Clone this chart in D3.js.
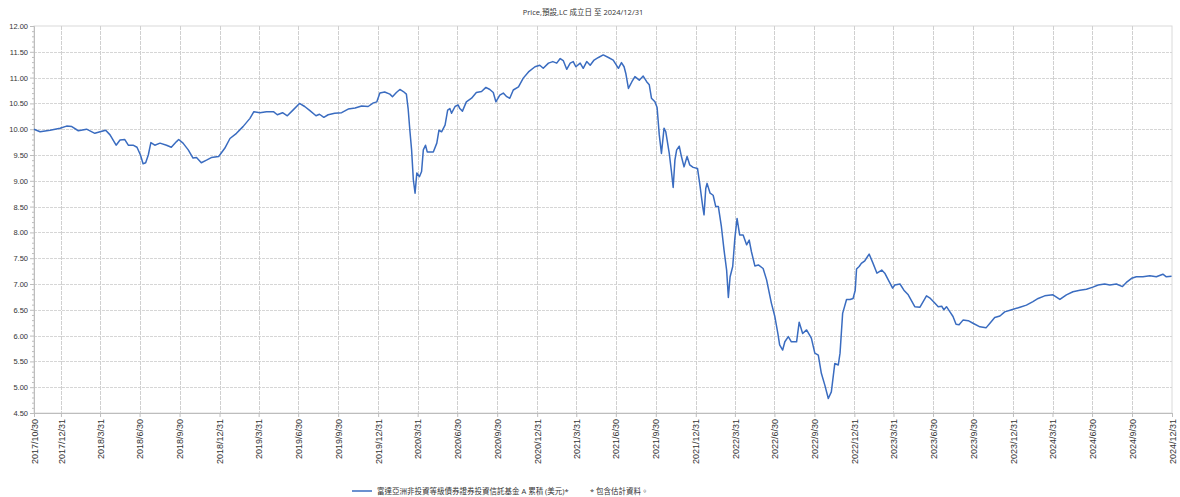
<!DOCTYPE html>
<html><head><meta charset="utf-8">
<script src="https://cdn.jsdelivr.net/npm/d3@7/dist/d3.min.js"></script>
<style>
html,body{margin:0;padding:0;background:#fff;}
svg{display:block;font-family:"Open Sans","Noto Sans CJK TC",sans-serif;}
</style></head><body>
<svg id="chart" width="1180" height="497"></svg>
<script>
const titleText = "Price,預設,LC 成立日 至 2024/12/31";
const seriesName = "富達亞洲非投資等級債券證券投資信託基金 A 累積 (美元)*";
const noteText = "*  包含估計資料。";

const dates = [
"2017-10-30","2017-11-13","2017-12-06","2017-12-29","2018-01-13","2018-01-25","2018-02-09","2018-02-28","2018-03-19","2018-03-31",
"2018-04-13","2018-04-23","2018-05-07","2018-05-16","2018-05-27","2018-06-04","2018-06-15","2018-06-24","2018-07-02","2018-07-08",
"2018-07-14","2018-07-20","2018-07-26","2018-08-04","2018-08-16","2018-08-31","2018-09-11","2018-09-23","2018-09-28","2018-10-08",
"2018-10-20","2018-10-31","2018-11-08","2018-11-19","2018-12-01","2018-12-12","2018-12-29","2019-01-12","2019-01-24","2019-02-08",
"2019-02-23","2019-03-11","2019-03-20","2019-04-03","2019-04-18","2019-05-04","2019-05-13","2019-05-25","2019-06-05","2019-06-18",
"2019-07-03","2019-07-15","2019-07-27","2019-08-10","2019-08-18","2019-08-28","2019-09-07","2019-09-22","2019-10-08","2019-10-23",
"2019-11-08","2019-11-23","2019-12-08","2019-12-20","2019-12-28","2020-01-04","2020-01-15","2020-01-27","2020-02-02","2020-02-11",
"2020-02-19","2020-02-27","2020-03-05","2020-03-09","2020-03-13","2020-03-17","2020-03-21","2020-03-25","2020-03-29","2020-04-04",
"2020-04-09","2020-04-13","2020-04-18","2020-04-22","2020-05-06","2020-05-14","2020-05-19","2020-05-25","2020-06-02","2020-06-08",
"2020-06-13","2020-06-17","2020-06-25","2020-07-02","2020-07-06","2020-07-12","2020-07-21","2020-08-02","2020-08-13","2020-08-25",
"2020-09-04","2020-09-13","2020-09-21","2020-09-27","2020-10-06","2020-10-14","2020-10-22","2020-10-29","2020-11-06","2020-11-18",
"2020-11-29","2020-12-11","2020-12-26","2021-01-06","2021-01-14","2021-01-26","2021-02-05","2021-02-14","2021-02-22","2021-03-01",
"2021-03-09","2021-03-17","2021-03-24","2021-03-30","2021-04-09","2021-04-16","2021-04-24","2021-05-02","2021-05-11","2021-05-21",
"2021-06-01","2021-06-13","2021-06-24","2021-07-06","2021-07-13","2021-07-19","2021-07-23","2021-07-29","2021-08-06","2021-08-13",
"2021-08-23","2021-09-01","2021-09-09","2021-09-15","2021-09-20","2021-09-28","2021-10-03","2021-10-08","2021-10-13","2021-10-19",
"2021-10-23","2021-10-31","2021-11-05","2021-11-09","2021-11-13","2021-11-17","2021-11-23","2021-11-28","2021-12-04","2021-12-11",
"2021-12-17","2021-12-25","2022-01-04","2022-01-09","2022-01-16","2022-01-19","2022-01-23","2022-01-26","2022-02-02","2022-02-09",
"2022-02-15","2022-02-21","2022-02-28","2022-03-06","2022-03-12","2022-03-16","2022-03-20","2022-03-26","2022-03-31","2022-04-05",
"2022-04-11","2022-04-19","2022-04-27","2022-05-03","2022-05-08","2022-05-16","2022-05-24","2022-06-04","2022-06-12","2022-06-23",
"2022-07-01","2022-07-08","2022-07-12","2022-07-19","2022-07-24","2022-08-01","2022-08-08","2022-08-20","2022-08-26","2022-09-03",
"2022-09-12","2022-09-23","2022-10-01","2022-10-09","2022-10-16","2022-10-24","2022-11-01","2022-11-08","2022-11-16","2022-11-24",
"2022-11-28","2022-12-04","2022-12-13","2022-12-21","2022-12-28","2023-01-02","2023-01-05","2023-01-11","2023-01-16","2023-01-24",
"2023-02-03","2023-02-12","2023-02-21","2023-03-04","2023-03-11","2023-03-19","2023-03-29","2023-04-03","2023-04-15","2023-04-24",
"2023-05-04","2023-05-19","2023-05-31","2023-06-15","2023-06-24","2023-07-04","2023-07-12","2023-07-20","2023-07-25","2023-07-31",
"2023-08-08","2023-08-15","2023-08-22","2023-08-29","2023-09-07","2023-09-19","2023-09-30","2023-10-16","2023-10-30","2023-11-08",
"2023-11-19","2023-12-01","2023-12-12","2023-12-28","2024-01-16","2024-01-31","2024-02-15","2024-02-27","2024-03-13","2024-04-01",
"2024-04-17","2024-05-02","2024-05-17","2024-06-02","2024-06-17","2024-07-02","2024-07-14","2024-07-29","2024-08-10","2024-08-25",
"2024-09-08","2024-09-17","2024-09-29","2024-10-10","2024-10-25","2024-11-10","2024-11-25","2024-12-10","2024-12-18","2024-12-30"
];
const prices = [
10.00,9.95,9.98,10.02,10.06,10.05,9.97,10.00,9.92,9.95,
9.98,9.89,9.69,9.79,9.80,9.69,9.69,9.65,9.50,9.33,
9.35,9.50,9.74,9.69,9.73,9.69,9.65,9.76,9.80,9.73,
9.60,9.44,9.45,9.35,9.40,9.45,9.47,9.63,9.82,9.92,
10.05,10.21,10.34,10.32,10.34,10.34,10.28,10.32,10.26,10.37,
10.50,10.44,10.36,10.26,10.29,10.23,10.28,10.31,10.32,10.39,
10.41,10.45,10.44,10.51,10.53,10.70,10.72,10.68,10.63,10.71,
10.77,10.73,10.68,10.40,9.98,9.60,9.02,8.76,9.15,9.08,
9.18,9.60,9.69,9.56,9.56,9.73,9.98,9.95,10.08,10.37,
10.40,10.31,10.44,10.47,10.40,10.35,10.53,10.60,10.71,10.73,
10.81,10.77,10.71,10.53,10.66,10.70,10.63,10.60,10.76,10.82,
10.99,11.11,11.21,11.24,11.18,11.28,11.31,11.28,11.37,11.33,
11.16,11.28,11.31,11.21,11.28,11.18,11.31,11.24,11.34,11.39,
11.44,11.39,11.34,11.18,11.29,11.21,11.08,10.79,10.92,11.02,
10.95,11.03,10.92,10.86,10.60,10.53,10.42,9.89,9.53,10.02,
9.95,9.53,9.18,8.87,9.40,9.60,9.67,9.47,9.27,9.47,
9.31,9.26,9.24,8.95,8.50,8.34,8.85,8.95,8.76,8.72,
8.50,8.50,8.11,7.66,7.27,6.74,7.14,7.34,7.89,8.27,
7.95,7.95,7.76,7.85,7.63,7.35,7.37,7.30,7.08,6.63,
6.37,6.04,5.82,5.72,5.88,5.98,5.88,5.88,6.26,6.04,
6.11,5.95,5.66,5.62,5.27,5.04,4.78,4.91,5.46,5.43,
5.66,6.43,6.70,6.70,6.72,6.88,7.29,7.34,7.40,7.45,
7.58,7.40,7.21,7.27,7.21,7.08,6.92,6.98,7.00,6.88,
6.79,6.56,6.55,6.77,6.72,6.63,6.56,6.57,6.50,6.56,
6.46,6.37,6.22,6.21,6.30,6.29,6.24,6.17,6.15,6.24,
6.35,6.38,6.46,6.50,6.55,6.59,6.66,6.72,6.77,6.79,
6.70,6.79,6.85,6.88,6.90,6.94,6.98,7.00,6.98,7.00,
6.95,7.03,7.11,7.14,7.14,7.16,7.14,7.19,7.14,7.15
];
const xTickLabels = [
"2017/10/30","2017/12/31","2018/3/31","2018/6/30","2018/9/30","2018/12/31","2019/3/31","2019/6/30","2019/9/30","2019/12/31",
"2020/3/31","2020/6/30","2020/9/30","2020/12/31","2021/3/31","2021/6/30","2021/9/30","2021/12/31","2022/3/31","2022/6/30",
"2022/9/30","2022/12/31","2023/3/31","2023/6/30","2023/9/30","2023/12/31","2024/3/31","2024/6/30","2024/9/30","2024/12/31"
];
const yTicks = [4.5,5,5.5,6,6.5,7,7.5,8,8.5,9,9.5,10,10.5,11,11.5,12];

const parse = d3.timeParse("%Y-%m-%d");
const parseTick = d3.timeParse("%Y/%m/%d");
const data = dates.map((d,i)=>({date:parse(d), v:prices[i]}));
const tickDates = xTickLabels.map(s=>parseTick(s));

const W=1180,H=497;
const m={l:34,t:26,r:8,b:84};
const svg=d3.select("#chart");
const x=d3.scaleTime().domain([tickDates[0],tickDates[tickDates.length-1]]).range([m.l,W-m.r]);
const y=d3.scaleLinear().domain([4.5,12]).range([H-m.b,m.t]);

// frame top/right
svg.append("rect").attr("x",m.l).attr("y",m.t).attr("width",W-m.r-m.l).attr("height",H-m.b-m.t)
  .attr("fill","none").attr("stroke","#dadada").attr("stroke-width",1);

// grid
const g=svg.append("g");
g.selectAll("line.h").data(yTicks.slice(1,-1)).join("line")
  .attr("x1",m.l).attr("x2",W-m.r).attr("y1",d=>Math.round(y(d))+0.5).attr("y2",d=>Math.round(y(d))+0.5)
  .attr("stroke","#d6d6d6").attr("stroke-dasharray","3,1");
g.selectAll("line.v").data(tickDates.slice(1,-1)).join("line")
  .attr("y1",m.t).attr("y2",H-m.b).attr("x1",d=>Math.round(x(d))+0.5).attr("x2",d=>Math.round(x(d))+0.5)
  .attr("stroke","#d0d0d0").attr("stroke-dasharray","4,1");

// y axis
const yAxis=d3.axisLeft(y).tickValues(yTicks).tickFormat(d3.format(".2f")).tickSize(4).tickPadding(2);
const ya=svg.append("g").attr("transform",`translate(${m.l},0)`).call(yAxis);
ya.select(".domain").attr("stroke","#bdbdbd");
ya.selectAll(".tick line").attr("stroke","#bdbdbd");
ya.selectAll("text").attr("font-size","7.5px").attr("fill","#333");
const minor=d3.range(45,121).map(d=>d/10).filter(d=>Math.abs(d*2-Math.round(d*2))>0.01);
const yMinor=d3.axisLeft(y).tickValues(minor).tickSize(2).tickFormat("");
const ym=svg.append("g").attr("transform",`translate(${m.l},0)`).call(yMinor);
ym.select(".domain").remove();
ym.selectAll(".tick line").attr("stroke","#bdbdbd");

// x axis
const xAxis=d3.axisBottom(x).tickValues(tickDates).tickFormat((d,i)=>xTickLabels[i]).tickSize(4).tickPadding(3);
const xa=svg.append("g").attr("transform",`translate(0,${H-m.b})`).call(xAxis);
xa.select(".domain").attr("stroke","#bdbdbd");
xa.selectAll(".tick line").attr("stroke","#bdbdbd");
xa.selectAll("text").attr("font-size","9px").attr("fill","#333")
  .attr("text-anchor","end").attr("dy","0.35em").attr("dx","0")
  .attr("transform","rotate(-90)").attr("x",-6).attr("y",0);

// line
const line=d3.line().x(d=>x(d.date)).y(d=>y(d.v));
svg.append("path").datum(data).attr("d",line).attr("fill","none")
  .attr("stroke","#3a6cc0").attr("stroke-width",1.5).attr("stroke-linejoin","round");

// title
svg.append("text").attr("x",583).attr("y",15).attr("text-anchor","middle")
  .attr("font-size","7.5px").attr("fill","#333").text(titleText);

// legend
const lg=svg.append("g");
lg.append("line").attr("x1",352).attr("x2",372).attr("y1",491).attr("y2",491)
  .attr("stroke","#3a6cc0").attr("stroke-width",1.5);
lg.append("text").attr("x",377).attr("y",494).attr("font-size","7.5px").attr("fill","#333").text(seriesName);
lg.append("text").attr("x",590).attr("y",494).attr("font-size","7.5px").attr("fill","#333").text(noteText);
</script>
</body></html>
